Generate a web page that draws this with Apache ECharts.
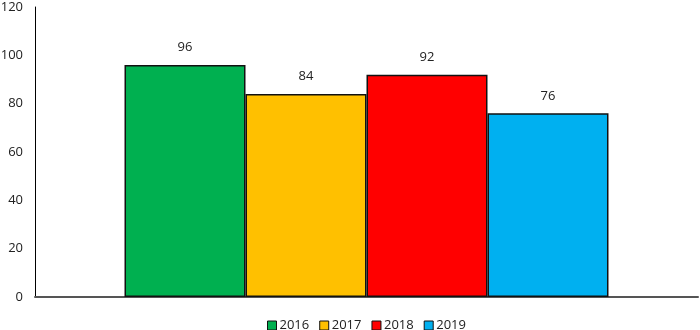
<!DOCTYPE html>
<html><head><meta charset="utf-8">
<script src="https://cdn.jsdelivr.net/npm/echarts@6/dist/echarts.min.js"></script>
<style>html,body{margin:0;padding:0;background:#fff}#c{width:700px;height:330px}</style>
</head><body><div id="c"></div>
<script>
const categories = [''];
const seriesNames = ['2016', '2017', '2018', '2019'];
const seriesValues = [[96], [84], [92], [76]];
const colors = ['#00B050', '#FFC000', '#FF0000', '#00B0F0'];
const yTicks = {min: 0, max: 120, interval: 20};

const chart = echarts.init(document.getElementById('c'));
const font = '"Open Sans", "Noto Sans", sans-serif';
chart.setOption({
  animation: false,
  textStyle: {fontFamily: font},
  grid: {left: 35, right: 2, top: 7, bottom: 33, containLabel: false, outerBoundsMode: 'none'},
  legend: {
    top: 314, left: 262, itemWidth: 9, itemHeight: 9, itemGap: 10,
    icon: 'rect',
    itemStyle: {borderColor: '#111', borderWidth: 1},
    textStyle: {fontSize: 13, color: '#222', fontFamily: font, padding: [0,0,0,-2]},
    data: seriesNames
  },
  xAxis: {
    type: 'category', data: categories,
    axisLine: {lineStyle: {color: '#555', width: 2}},
    axisTick: {show: false}, axisLabel: {show: false}
  },
  yAxis: {
    type: 'value', min: yTicks.min, max: yTicks.max, interval: yTicks.interval,
    axisLine: {show: true, lineStyle: {color: '#000', width: 1}},
    axisTick: {show: false},
    splitLine: {show: false},
    axisLabel: {fontSize: 13, color: '#222', margin: 12, fontFamily: font}
  },
  series: seriesNames.map((n, i) => ({
    name: n, type: 'bar', data: seriesValues[i],
    barGap: '0%', barCategoryGap: '27%',
    itemStyle: {color: colors[i], borderColor: '#111', borderWidth: 1.5},
    label: {show: true, position: 'top', distance: 11, fontSize: 13, color: '#222', fontFamily: font}
  }))
});
</script></body></html>
